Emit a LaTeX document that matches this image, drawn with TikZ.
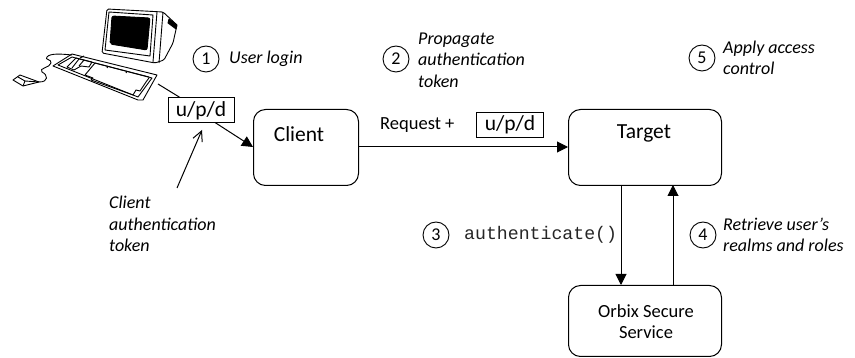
\documentclass[tikz,border=0pt]{standalone}
\usepackage{fontspec}
\setmainfont{Carlito}
\setmonofont{Liberation Mono}
\usetikzlibrary{arrows.meta,positioning}
\tikzset{
  proc/.style={draw,line width=1pt,rounded corners=12pt,anchor=north west,inner sep=0pt},
  token/.style={draw,line width=1pt,font=\fontsize{21.5}{22}\selectfont,inner sep=0pt,anchor=north west,minimum height=25pt},
  num/.style={draw,circle,line width=0.9pt,minimum size=26pt,inner sep=0pt,font=\fontsize{18}{18}\selectfont},
  note/.style={font=\fontsize{18}{21.5}\selectfont\itshape,align=left,anchor=west,inner sep=0pt},
  lab/.style={font=\fontsize{18.5}{21}\selectfont,align=center,inner sep=0pt},
  conn/.style={line width=1pt,-{Triangle[length=11pt,width=11pt]}},
  thin line/.style={line width=1pt},
  sketch/.style={line width=0.9pt,line join=round}
}
\begin{document}
\begin{tikzpicture}[x=1pt,y=-1pt]
\useasboundingbox (0,0) rectangle (855,358);
% monitor
\draw[sketch,fill=white,rounded corners=1.5pt] (107,9) -- (163,12) -- (177,25) -- (173,43) -- (164,60) -- (155,63) -- (102,53) -- cycle;
\draw[sketch] (157,12) -- (153,62);
\draw[sketch] (163,12) -- (159,63);
\draw[sketch,fill=black] (169,19) -- (177,25) -- (176,29) -- (168,23) -- cycle;
\draw[sketch] (109,12) -- (153,15) -- (150,56) -- (105,50) -- cycle;
\draw[sketch,fill=black,rounded corners=2pt] (112,16) -- (150,18) -- (147,50) -- (110,44) -- cycle;
% keyboard
\draw[sketch,fill=white] (72,54) -- (157,75) -- (143,100) -- (138,100) -- (53,66) -- cycle;
\draw[sketch] (72,57) -- (152,78) -- (138,97) -- (58,65) -- cycle;
\draw[sketch] (76,58) -- (67,67) -- (74,70) -- (81,66) -- (89,67) -- (92,62) -- cycle;
\draw[sketch] (79,59) -- (72,68);
\draw[sketch] (84,60) -- (79,66);
\draw[sketch] (95,63) -- (85,75) -- (93,78) -- (91,80) -- (133,95) -- (136,90) -- (140,91) -- (146,82) -- (149,78);
\draw[sketch] (95,63) -- (149,77);
\draw[sketch] (108,66) -- (107,68);
\draw[sketch] (127,71) -- (126,73);
\draw[sketch] (80,58) -- (84,56);
% mouse
\draw[sketch,fill=white] (13,80) -- (20,75) -- (39,82) -- (23,86) -- cycle;
\draw[sketch] (18,77) -- (25,81) -- (23,86);
\draw[sketch] (25,81) -- (39,82);
\draw[sketch] (39,82) .. controls (49,82) and (48,75) .. (42,72) .. controls (38,68) and (50,68) .. (51,63) .. controls (52,59) and (44,60) .. (47,57) .. controls (50,53) and (62,54) .. (72,55);
% boxes
\node[proc,minimum width=105pt,minimum height=76pt] (client) at (253,109) {};
\node[lab,font=\fontsize{21.5}{22}\selectfont] (clienttxt) at (299,134) {Client};
\node[proc,minimum width=153pt,minimum height=76pt] (target) at (568,109) {};
\node[lab,font=\fontsize{21.5}{22}\selectfont] (targettxt) at (644,133) {Target};
\node[proc,minimum width=153pt,minimum height=71pt] (orbix) at (568,285) {};
\node[lab] (orbixtxt) at (646,322) {Orbix Secure\\Service};
\node[token,minimum width=66pt] (tok1) at (167.5,97.5) {u/p/d};
\node[token,minimum width=67pt] (tok2) at (476,112) {u/p/d};
\node[lab,anchor=west] (req) at (380,125) {Request +};
% keyboard to token
\coordinate (kb) at (158,84);
\draw[thin line] (kb) -- (180,97.5);
% connectors
\draw[conn] (215,122.5) -- (client.west |- 0,147);
\coordinate (ctail) at (177,188);
\draw[thin line,-{Straight Barb[length=10pt,width=10pt]}] (ctail) -- (202,130);
\draw[conn] (client.east |- 0,147) -- (target.west |- 0,147);
\draw[conn] (621,185) -- (621,285);
\draw[conn] (673,285) -- (673,185);
% numbers and notes
\node[num] (n1) at (206,59) {1};
\node[note] (t1) at (229,59) {User login};
\node[num] (n2) at (396,59) {2};
\node[note] (t2) at (418,60) {Propagate\\authentication\\token};
\node[num] (n5) at (702,58) {5};
\node[note] (t5) at (723,58) {Apply access\\control};
\node[num] (n3) at (436,235) {3};
\node[anchor=west,inner sep=0pt,font=\ttfamily\fontsize{18.2}{19}\selectfont,text=black!85] (auth) at (464,235) {authenticate()};
\node[num] (n4) at (703,235) {4};
\node[note] (t4) at (723,235) {Retrieve user's\\realms and roles};
\node[note] (t6) at (109,224) {Client\\authentication\\token};
\end{tikzpicture}
\end{document}
